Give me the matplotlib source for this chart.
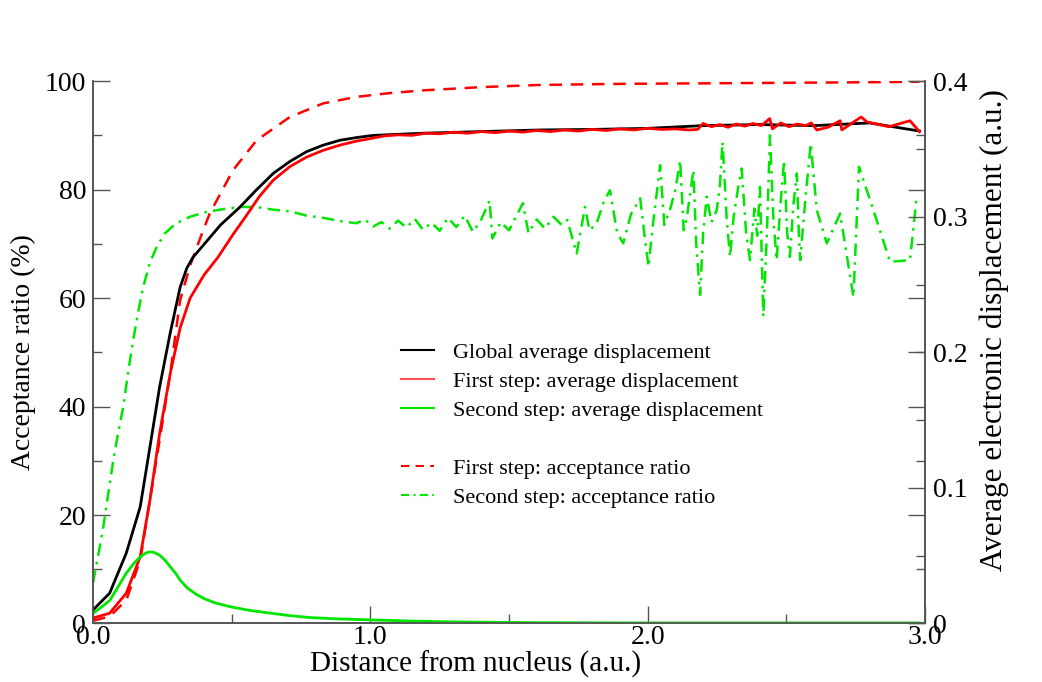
import matplotlib
matplotlib.use("Agg")
import matplotlib.pyplot as plt
from matplotlib.lines import Line2D
from matplotlib.ticker import MultipleLocator, FixedLocator

plt.rcParams['font.family'] = ['Liberation Serif', 'DejaVu Serif']

# ---------------- data ----------------
# Global average displacement (a.u., right axis)
glob_x = [0.0, 0.06, 0.12, 0.17, 0.205, 0.24, 0.278, 0.314, 0.338, 0.36, 0.41, 0.46,
          0.53, 0.59, 0.65, 0.71, 0.77, 0.83, 0.89, 0.95, 1.01, 1.10, 1.19, 1.40,
          1.61, 1.80, 2.00, 2.20, 2.40, 2.60, 2.80, 2.98]
glob_y = [0.010, 0.0224, 0.052, 0.086, 0.130, 0.1744, 0.214, 0.248, 0.262, 0.270,
          0.282, 0.294, 0.3072, 0.320, 0.332, 0.3408, 0.348, 0.3528, 0.3564, 0.3584,
          0.360, 0.3608, 0.3616, 0.3628, 0.364, 0.3644, 0.3652, 0.3672, 0.368,
          0.3672, 0.3692, 0.3632]

# First step: average displacement (a.u., right axis)
first_disp_x = [0.0, 0.06, 0.12, 0.17, 0.205, 0.24, 0.278, 0.314, 0.35, 0.40, 0.45,
                0.505, 0.55, 0.60, 0.65, 0.71, 0.77, 0.83, 0.89, 0.95, 1.01, 1.05,
                1.10, 1.15, 1.20, 1.25, 1.30, 1.35, 1.40, 1.45, 1.50, 1.55, 1.60,
                1.65, 1.70, 1.75, 1.80, 1.85, 1.90, 1.95, 2.00, 2.05, 2.10, 2.15,
                2.18, 2.20, 2.23, 2.26, 2.29, 2.32, 2.35, 2.38, 2.41, 2.44, 2.45,
                2.48, 2.51, 2.54, 2.57, 2.59, 2.61, 2.65, 2.694, 2.70, 2.77, 2.79,
                2.87, 2.946, 2.98]
first_disp_y = [0.004, 0.0076, 0.0224, 0.0492, 0.0908, 0.140, 0.184, 0.218, 0.240,
                0.257, 0.270, 0.287, 0.300, 0.315, 0.327, 0.3370, 0.3440, 0.3490,
                0.3528, 0.3558, 0.358, 0.3596, 0.3604, 0.3600, 0.3616, 0.3612,
                0.3624, 0.3616, 0.3628, 0.3620, 0.3632, 0.3624, 0.3636, 0.3628,
                0.3640, 0.3632, 0.3644, 0.3636, 0.3648, 0.3640, 0.3652, 0.3644,
                0.3648, 0.3640, 0.3644, 0.3688, 0.3664, 0.3680, 0.3660, 0.3684,
                0.3668, 0.3688, 0.3672, 0.3724, 0.3648, 0.3692, 0.3664, 0.3684,
                0.3672, 0.3692, 0.3640, 0.3660, 0.3708, 0.3640, 0.3736, 0.3700,
                0.3664, 0.3708, 0.3628]

# Second step: average displacement (a.u., right axis)
second_disp_x = [0.0, 0.03, 0.061, 0.09, 0.12, 0.15, 0.17, 0.19, 0.205, 0.22, 0.24,
                 0.26, 0.278, 0.30, 0.314, 0.34, 0.37, 0.40, 0.44, 0.494, 0.56,
                 0.64, 0.71, 0.78, 0.88, 1.01, 1.15, 1.30, 1.60, 2.00, 2.50, 2.98]
second_disp_y = [0.0076, 0.0120, 0.0172, 0.0270, 0.0372, 0.0450, 0.0492, 0.0520,
                 0.0528, 0.0524, 0.0504, 0.0466, 0.0420, 0.0364, 0.0320, 0.0262,
                 0.0218, 0.0184, 0.0152, 0.0124, 0.0098, 0.0076, 0.0058, 0.0044,
                 0.0034, 0.0026, 0.0018, 0.0012, 0.0006, 0.0004, 0.0004, 0.0004]

# First step: acceptance ratio (%, left axis)
first_acc_x = [0.0, 0.06, 0.12, 0.17, 0.205, 0.24, 0.278, 0.314, 0.35, 0.386, 0.42,
               0.446, 0.505, 0.59, 0.71, 0.83, 0.95, 1.07, 1.19, 1.40, 1.61, 1.90,
               2.20, 2.50, 2.80, 2.98]
first_acc_y = [0.5, 1.3, 4.3, 11.7, 22.7, 33.8, 46.0, 59.6, 66.0, 71.0, 75.5, 78.0,
               83.6, 89.1, 93.4, 95.9, 97.1, 97.8, 98.3, 98.9, 99.3, 99.5, 99.6,
               99.7, 99.8, 99.9]

# Second step: acceptance ratio (%, left axis)
second_acc_x = [0.0, 0.02, 0.037, 0.055, 0.073, 0.09, 0.109, 0.127, 0.145, 0.163,
                0.181, 0.205, 0.23, 0.26, 0.30, 0.35, 0.41, 0.47, 0.53, 0.59, 0.65,
                0.71, 0.77, 0.83, 0.89, 0.95, 0.98, 1.01, 1.04, 1.07, 1.10, 1.13,
                1.16, 1.19, 1.22, 1.25, 1.28, 1.31, 1.34, 1.37, 1.40, 1.43, 1.44,
                1.47, 1.50, 1.53, 1.55, 1.57, 1.60, 1.63, 1.66, 1.69, 1.71, 1.744,
                1.774, 1.79, 1.816, 1.84, 1.864, 1.89, 1.912, 1.94, 1.973, 1.99,
                2.003, 2.02, 2.045, 2.06, 2.08, 2.10, 2.117, 2.13, 2.14, 2.165,
                2.175, 2.189, 2.20, 2.213, 2.23, 2.249, 2.26, 2.27, 2.285, 2.297,
                2.31, 2.325, 2.339, 2.355, 2.369, 2.385, 2.395, 2.405, 2.417, 2.43,
                2.441, 2.453, 2.465, 2.48, 2.492, 2.503, 2.513, 2.525, 2.538, 2.545,
                2.55, 2.57, 2.588, 2.61, 2.646, 2.694, 2.742, 2.762, 2.802, 2.874,
                2.946, 2.97]
second_acc_y = [7.5, 13.0, 17.8, 24.0, 30.1, 35.0, 40.0, 46.5, 52.3, 57.5, 62.1, 66.5,
                69.5, 72.0, 73.8, 75.0, 75.9, 76.4, 76.8, 76.8, 76.3, 76.0, 75.2,
                74.8, 74.2, 73.8, 74.5, 73.2, 74.0, 72.8, 74.3, 73.0, 74.6, 72.6,
                73.9, 72.4, 74.8, 73.1, 75.2, 72.2, 74.5, 78.0, 71.0, 74.0, 72.5,
                75.5, 77.5, 72.0, 74.5, 72.8, 75.0, 73.5, 74.4, 68.2, 76.8, 72.5,
                73.8, 77.5, 79.9, 72.0, 70.1, 75.5, 78.4, 71.0, 65.8, 74.0, 84.5,
                73.5, 76.2, 80.0, 85.4, 72.5, 74.4, 83.6, 70.0, 60.6, 72.0, 78.7,
                74.0, 76.2, 80.5, 88.8, 74.5, 67.6, 75.0, 80.0, 83.9, 72.0, 67.0,
                76.5, 71.5, 80.5, 56.6, 72.0, 90.0, 75.0, 67.0, 78.0, 85.4, 72.0,
                67.6, 77.0, 83.0, 72.0, 67.0, 79.0, 88.5, 76.2, 70.1, 75.6, 60.2,
                84.2, 78.1, 66.7, 67.0, 78.7]

x_ticks = [0.0, 1.0, 2.0, 3.0]
x_tick_labels = ["0.0", "1.0", "2.0", "3.0"]
left_ticks = [0, 20, 40, 60, 80, 100]
right_ticks = [0, 0.1, 0.2, 0.3, 0.4]
right_tick_labels = ["0", "0.1", "0.2", "0.3", "0.4"]

# ---------------- figure ----------------
RED = "#ff0000"
GREEN = "#00e600"
SPINE = "#555555"

fig = plt.figure(figsize=(10.42, 6.82), dpi=100)
ax = fig.add_axes([0.0893, 0.0858, 0.7984, 0.7952])
ax2 = ax.twinx()

ax.set_xlim(0, 3.0)
ax.set_ylim(0, 100)
ax2.set_ylim(0, 0.4)

# acceptance ratios (left axis)
ax.plot(first_acc_x, first_acc_y, color=RED, lw=1.8, dashes=(5, 3.5))
ax.plot(second_acc_x, second_acc_y, color=GREEN, lw=1.8, dashes=(5, 2.5, 1, 2.5))

# displacements (right axis)
ax2.plot(glob_x, glob_y, color="black", lw=2.0)
ax2.plot(first_disp_x, first_disp_y, color=RED, lw=2.0)
ax2.plot(second_disp_x, second_disp_y, color=GREEN, lw=2.0)

# spines
for a in (ax, ax2):
    a.spines['top'].set_visible(False)
    for s in ('left', 'right', 'bottom'):
        a.spines[s].set_color(SPINE)
        a.spines[s].set_linewidth(1.2)

ax.xaxis.set_major_locator(FixedLocator(x_ticks))
ax.set_xticklabels(x_tick_labels)
ax.xaxis.set_minor_locator(MultipleLocator(0.5))
ax.yaxis.set_major_locator(FixedLocator(left_ticks))
ax.yaxis.set_minor_locator(MultipleLocator(10))
ax2.yaxis.set_major_locator(FixedLocator(right_ticks))
ax2.set_yticklabels(right_tick_labels)
ax2.yaxis.set_minor_locator(MultipleLocator(0.05))

ax.tick_params(axis='both', which='major', direction='in', length=12, width=1.0,
               color=SPINE, labelsize=20, pad=5, top=False, right=True)
ax.tick_params(axis='both', which='minor', direction='in', length=6.5, width=1.0,
               color=SPINE, top=False, right=True)
ax.tick_params(axis='x', which='major', pad=1)
ax2.tick_params(axis='y', which='major', direction='in', length=12, width=1.0,
                color=SPINE, labelsize=20, pad=6)
ax2.tick_params(axis='y', which='minor', direction='in', length=6.5, width=1.0,
                color=SPINE)

ax.set_xlabel("Distance from nucleus (a.u.)", fontsize=21)
ax.xaxis.set_label_coords(0.46, -0.05)
ax.set_ylabel("Acceptance ratio (%)", fontsize=20, labelpad=6)
ax2.set_ylabel("Average electronic displacement (a.u.)", fontsize=22.5)
ax2.yaxis.set_label_coords(1.066, 0.541)

# legend
handles = [
    Line2D([], [], color="black", lw=1.5),
    Line2D([], [], color="#ff5050", lw=1.5),
    Line2D([], [], color=GREEN, lw=1.5),
    Line2D([], [], color="none", lw=0),
    Line2D([], [], color=RED, lw=1.5, dashes=(4, 3)),
    Line2D([], [], color=GREEN, lw=1.5, dashes=(4, 2, 1, 2)),
]
labels = [
    "Global average displacement",
    "First step: average displacement",
    "Second step: average displacement",
    " ",
    "First step: acceptance ratio",
    "Second step: acceptance ratio",
]
leg = ax2.legend(handles, labels, loc='upper left', bbox_to_anchor=(0.36, 0.535),
                 frameon=False, fontsize=16, handlelength=1.45, handletextpad=0.85,
                 labelspacing=0.38, borderaxespad=0)

fig.savefig("out.png", dpi=100)
